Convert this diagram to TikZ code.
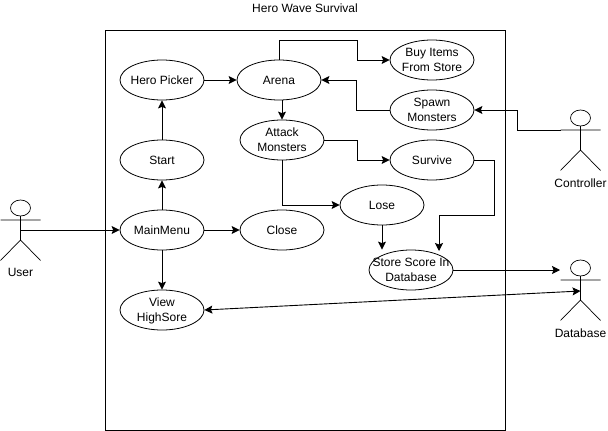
\documentclass[tikz,border=0pt]{standalone}
\usepackage{fontspec}
\setmainfont{Liberation Sans}
\usetikzlibrary{shapes.geometric,arrows.meta}
\newcommand\etxt[1]{\smash{\makebox[0pt]{\raisebox{\dimexpr\depth-.5\totalheight-1pt\relax}{\begin{tabular}{@{}c@{}}#1\end{tabular}}}}}
\tikzset{
  base/.style={font=\fontsize{12}{15}\selectfont,text=black},
  usecase/.style={base,draw=black,line width=0.8pt,ellipse,minimum width=84pt,minimum height=40pt,inner sep=0pt,fill=white},
  caption/.style={base,inner sep=0pt},
  conn/.style={draw=black,line width=0.9pt,-{Stealth[length=8pt,width=8pt,inset=1.5pt]}},
  conn2/.style={draw=black,line width=0.9pt,{Stealth[length=8pt,width=8pt,inset=1.5pt]}-{Stealth[length=8pt,width=8pt,inset=1.5pt]}},
  stick/.style={draw=black,line width=0.7pt},
  frame/.style={draw=black,line width=1pt}
}
\begin{document}
\begin{tikzpicture}[x=1pt,y=-1pt]
\useasboundingbox (0,0) rectangle (608,431);
\draw[frame] (105,30) rectangle (505,430);
\node[caption] (title) at (305,8) {Hero Wave Survival};

\node[usecase] (hero) at (162,80) {\etxt{Hero Picker}};
\node[usecase] (start) at (162,160) {\etxt{Start}};
\node[usecase] (main) at (162,230) {\etxt{MainMenu}};
\node[usecase] (view) at (162,310) {\etxt{View\\HighSore}};
\node[usecase] (arena) at (279,80) {\etxt{Arena}};
\node[usecase] (attack) at (282,140) {\etxt{Attack\\Monsters}};
\node[usecase] (close) at (282,230) {\etxt{Close}};
\node[usecase] (buy) at (432,60) {\etxt{Buy Items\\From Store}};
\node[usecase] (spawn) at (432,110) {\etxt{Spawn\\Monsters}};
\node[usecase] (survive) at (432,160) {\etxt{Survive}};
\node[usecase] (lose) at (382,205) {\etxt{Lose}};
\node[usecase] (store) at (411,270) {\etxt{Store Score In\\Database}};

% actors
\draw[stick] (20.5,208) ellipse (10pt and 8pt);
\draw[stick] (20.5,216) -- (20.5,240) (0.5,220) -- (40.5,220) (0.5,260.5) -- (20.5,240) -- (40.5,260.5);
\node[caption] (userlabel) at (20.5,272) {User};
\coordinate (user) at (20.5,230);

\draw[stick] (580.5,118) ellipse (10pt and 8pt);
\draw[stick] (580.5,126) -- (580.5,150) (560.5,130) -- (600.5,130) (560.5,170.5) -- (580.5,150) -- (600.5,170.5);
\node[caption] (ctrllabel) at (580.5,183) {Controller};
\coordinate (ctrl) at (560.5,130);

\draw[stick] (580.5,268) ellipse (10pt and 8pt);
\draw[stick] (580.5,276) -- (580.5,300) (560.5,280) -- (600.5,280) (560.5,320.5) -- (580.5,300) -- (600.5,320.5);
\node[caption] (dblabel) at (580.5,333) {Database};
\coordinate (db) at (560,270);
\coordinate (dbbody) at (580.5,291);

% connectors
\draw[conn] (user) -- (main);
\draw[conn] (main) -- (start);
\draw[conn] (start) -- (hero);
\draw[conn] (hero) -- (arena);
\draw[conn] (main) -- (close);
\draw[conn] (main) -- (view);
\draw[conn2] (view.east) -- (dbbody);
\draw[conn] (arena.north) |- (357.5,40.5) |- (buy.west);
\draw[conn] (spawn.west) -| (356,80) -- (arena.east);
\draw[conn] (arena.south -| attack.north) -- (attack.north);
\draw[conn] (attack.east) -- (357,140) |- (survive.west);
\draw[conn] (attack.south) |- (lose.west);
\draw[conn] (survive.east) -- (494,160) |- (439,215) -- (439,251);
\draw[conn] (lose.south) -- (lose.south |- store.north);
\draw[conn] (store.east) -- (db);
\draw[conn] (ctrl) -- (517.5,130) |- (spawn.east);
\end{tikzpicture}
\end{document}
